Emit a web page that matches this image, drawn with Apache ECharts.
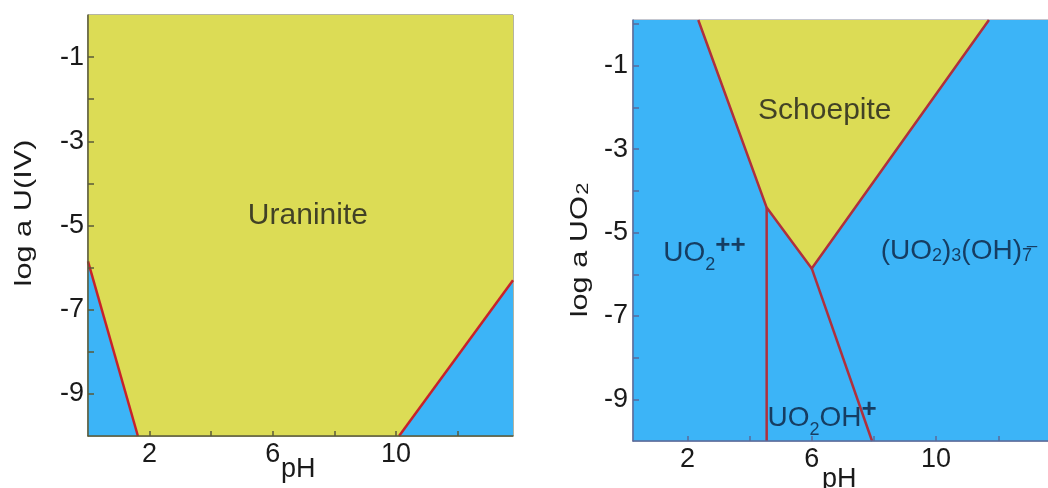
<!DOCTYPE html>
<html><head><meta charset="utf-8">
<script src="https://cdn.jsdelivr.net/npm/echarts@6/dist/echarts.min.js"></script>
<style>html,body{margin:0;padding:0;background:#fff}#c{width:1048px;height:488px}</style>
</head><body><div id="c"></div>
<script>
// ---- Left panel (Uraninite) data: [pH, log a U(IV)] ----
const leftXRange = [0, 13.8];
const leftYRange = [-10, 0];
const leftXTicks = [2, 4, 6, 8, 10, 12];
const leftXLabels = [2, 6, 10];
const leftYTicks = [-1, -2, -3, -4, -5, -6, -7, -8, -9];
const leftYLabels = [-1, -3, -5, -7, -9];
const uraninite = [[0, 0], [13.8, 0], [13.8, -6.3], [10.1, -10], [1.62, -10], [0, -5.85]];
const leftAqA = [[0, -5.85], [1.62, -10], [0, -10]];
const leftAqB = [[10.1, -10], [13.8, -6.3], [13.8, -10]];
const leftBound1 = [[0, -5.85], [1.62, -10]];
const leftBound2 = [[10.1, -10], [13.8, -6.3]];
const uraniniteLabel = [7.14, -4.77];

// ---- Right panel (Schoepite) data: [pH, log a UO2] ----
const rightXRange = [0.25, 13.6];
const rightYRange = [-10, 0.1];
const rightXTicks = [2, 4, 6, 8, 10, 12];
const rightXLabels = [2, 6, 10];
const rightYTicks = [0, -1, -2, -3, -4, -5, -6, -7, -8, -9];
const rightYLabels = [-1, -3, -5, -7, -9];
const rightAq = [[0.25, 0.1], [13.6, 0.1], [13.6, -10], [0.25, -10]];
const schoepite = [[2.35, 0.1], [11.7, 0.1], [6.0, -5.86], [4.55, -4.4]];
const rightBoundSchoepite = [[2.35, 0.1], [4.55, -4.4], [6.0, -5.86], [11.7, 0.1]];
const rightBoundVert = [[4.55, -4.4], [4.55, -10]];
const rightBoundOH = [[6.0, -5.86], [7.94, -10]];
const schoepiteLabel = [6.42, -2.08];
const uo2Label = [2.55, -5.5];
const trimerLabel = [10.65, -5.45];
const uo2ohLabel = [6.33, -9.45];

const YELLOW = '#dcdc55';
const BLUE = '#3cb4f7';
const RED_L = '#c8222a';
const RED_R = '#b0303c';
const TXT = '#1a1a1a';
const FONT = 'Liberation Sans';

function poly(pts, color, gi) {
  return {
    type: 'custom', xAxisIndex: gi, yAxisIndex: gi, silent: true, z: 1,
    data: [[pts[0][0], pts[0][1]]],
    renderItem: (params, api) => ({
      type: 'polygon',
      shape: { points: pts.map(p => api.coord(p)) },
      style: { fill: color }
    })
  };
}
function line(pts, color, gi, w) {
  return {
    type: 'line', xAxisIndex: gi, yAxisIndex: gi, data: pts, showSymbol: false,
    silent: true, z: 3, lineStyle: { color: color, width: w }
  };
}
function label(pt, gi, fmt, rich) {
  return {
    type: 'scatter', xAxisIndex: gi, yAxisIndex: gi, data: [pt], symbolSize: 0, z: 5, silent: true,
    label: { show: true, position: 'inside', formatter: fmt, rich: rich, fontFamily: FONT }
  };
}
function xAxis(gi, range, ticks, labels, lineColor) {
  return {
    type: 'value', gridIndex: gi, min: range[0], max: range[1], z: 10,
    axisLine: { show: true, onZero: false, lineStyle: { color: lineColor, width: 1.5 } },
    axisTick: { show: true, inside: true, length: 5, customValues: ticks, lineStyle: { color: lineColor, width: 1.5 } },
    axisLabel: { customValues: labels, fontSize: 27, color: TXT, fontFamily: FONT, margin: 5 },
    splitLine: { show: false }
  };
}
function yAxis(gi, range, ticks, labels, lineColor, margin) {
  return {
    type: 'value', gridIndex: gi, min: range[0], max: range[1], z: 10,
    axisLine: { show: true, onZero: false, lineStyle: { color: lineColor, width: 1.5 } },
    axisTick: { show: true, inside: true, length: 6, customValues: ticks, lineStyle: { color: lineColor, width: 1.5 } },
    axisLabel: { customValues: labels, fontSize: 27, color: TXT, fontFamily: FONT, margin: margin },
    splitLine: { show: false }
  };
}

const labelColor = '#0d1f3c';
const richBig = {
  n: { fontSize: 28, color: labelColor, fontFamily: FONT },
  s: { fontSize: 18, color: labelColor, fontFamily: FONT, verticalAlign: 'bottom', padding: [10, 0, 0, 0] },
  p: { fontSize: 26, color: labelColor, fontFamily: FONT, fontWeight: 'bold', verticalAlign: 'top', padding: [0, 0, 16, 0] }
};

const chart = echarts.init(document.getElementById('c'), null, { renderer: 'canvas' });
chart.setOption({
  animation: false,
  backgroundColor: '#ffffff',
  grid: [
    { left: 88, top: 15, width: 425, height: 421, show: true, borderColor: '#6a6a45', borderWidth: 1, backgroundColor: 'transparent' },
    { left: 633, top: 20, width: 415, height: 421, show: true, borderColor: '#8a8fa0', borderWidth: 1, backgroundColor: 'transparent' }
  ],
  xAxis: [
    xAxis(0, leftXRange, leftXTicks, leftXLabels, '#5a5a3a'),
    xAxis(1, rightXRange, rightXTicks, rightXLabels, '#5a6a9a')
  ],
  yAxis: [
    yAxis(0, leftYRange, leftYTicks, leftYLabels, '#5a5a3a', 4),
    yAxis(1, rightYRange, rightYTicks, rightYLabels, '#5a6a9a', 5)
  ],
  graphic: [
    { type: 'text', x: 24, y: 213, rotation: Math.PI / 2, scaleX: 1.28, z: 10,
      style: { text: 'log a U(IV)', fill: TXT, font: '24px Liberation Sans', textAlign: 'center', textVerticalAlign: 'middle' } },
    { type: 'text', left: 281, top: 456, z: 10, style: { text: 'pH', fill: TXT, font: '27px Liberation Sans' } },
    { type: 'text', left: 822, top: 466, z: 10, style: { text: 'pH', fill: TXT, font: '27px Liberation Sans' } },
    { type: 'text', x: 580, y: 250, rotation: Math.PI / 2, scaleX: 1.28, z: 10, style: {
        text: '{n|log a UO}{s|2}', textAlign: 'center', textVerticalAlign: 'middle',
        rich: { n: { fontSize: 24, fill: TXT, fontFamily: FONT }, s: { fontSize: 17, fill: TXT, fontFamily: FONT, verticalAlign: 'bottom', padding: [6, 0, 0, 1] } }
      } }
  ],
  series: [
    poly(uraninite, YELLOW, 0),
    poly(leftAqA, BLUE, 0),
    poly(leftAqB, BLUE, 0),
    line(leftBound1, RED_L, 0, 2.5),
    line(leftBound2, RED_L, 0, 2.5),
    label(uraniniteLabel, 0, '{t|Uraninite}', { t: { fontSize: 30, color: TXT, fontFamily: FONT } }),
    poly(rightAq, BLUE, 1),
    poly(schoepite, YELLOW, 1),
    line(rightBoundSchoepite, RED_R, 1, 2.5),
    line(rightBoundVert, RED_R, 1, 2.5),
    line(rightBoundOH, RED_R, 1, 2.5),
    label(schoepiteLabel, 1, '{t|Schoepite}', { t: { fontSize: 30, color: TXT, fontFamily: FONT } }),
    label(uo2Label, 1, '{n|UO}{s|2}{p|++}', richBig),
    label(trimerLabel, 1, '{n|(UO}{s|2}{n|)}{s|3}{n|(OH)}{s|7\u0305}', richBig),
    label(uo2ohLabel, 1, '{n|UO}{s|2}{n|OH}{p|+}', richBig)
  ]
});
</script>
</body></html>
